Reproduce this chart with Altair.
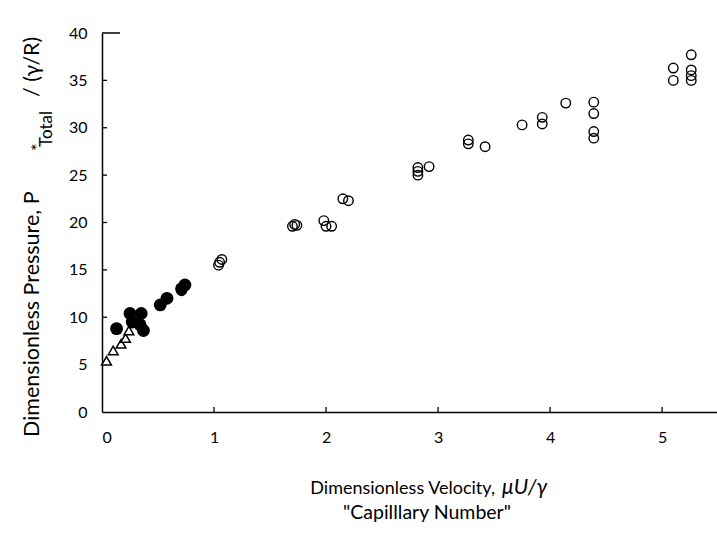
import altair as alt
import pandas as pd

# Open circles: capillary-number sweep
open_x = [0.71, 1.04, 1.05, 1.07, 1.70, 1.72, 1.74, 1.98, 2.00, 2.05, 2.15, 2.20,
          2.82, 2.82, 2.82, 2.92, 3.27, 3.27, 3.42, 3.75, 3.93, 3.93, 4.14,
          4.39, 4.39, 4.39, 4.39, 5.10, 5.10, 5.26, 5.26, 5.26, 5.26]
open_y = [12.8, 15.5, 15.8, 16.1, 19.6, 19.8, 19.7, 20.2, 19.6, 19.6, 22.5, 22.3,
          25.0, 25.4, 25.8, 25.9, 28.7, 28.3, 28.0, 30.3, 31.1, 30.4, 32.6,
          32.7, 31.5, 29.6, 28.9, 36.3, 35.0, 37.7, 36.1, 35.5, 35.0]

# Filled circles: low-velocity runs
filled_x = [0.13, 0.25, 0.35, 0.27, 0.34, 0.37, 0.52, 0.58, 0.71, 0.74]
filled_y = [8.8, 10.4, 10.4, 9.5, 9.2, 8.6, 11.3, 12.0, 13.0, 13.4]

# Open triangles
tri_x = [0.04, 0.10, 0.17, 0.21, 0.24, 0.32]
tri_y = [5.4, 6.5, 7.2, 7.8, 8.6, 9.4]

x_ticks = [0, 1, 2, 3, 4, 5]
y_ticks = [0, 5, 10, 15, 20, 25, 30, 35, 40]

FONT = "Lato"
W, H = 615, 379

xs = alt.Scale(domain=[0, 5.49], nice=False, zero=False)
ys = alt.Scale(domain=[0, 40], nice=False, zero=False)
x_axis = alt.Axis(values=x_ticks, title=None, format="d")
y_axis = alt.Axis(values=y_ticks, title=None, format="d")

df_open = pd.DataFrame({"x": open_x, "y": open_y})
df_filled = pd.DataFrame({"x": filled_x, "y": filled_y})
df_tri = pd.DataFrame({"x": tri_x, "y": tri_y})

opened = alt.Chart(df_open).mark_point(
    shape="circle", filled=False, color="black", size=90, strokeWidth=1.4, opacity=1
).encode(x=alt.X("x:Q", scale=xs, axis=x_axis), y=alt.Y("y:Q", scale=ys, axis=y_axis))

filled = alt.Chart(df_filled).mark_point(
    shape="circle", filled=True, color="black", size=165, opacity=1
).encode(x=alt.X("x:Q", scale=xs, axis=x_axis), y=alt.Y("y:Q", scale=ys, axis=y_axis))

tris = alt.Chart(df_tri).mark_point(
    shape="triangle-up", filled=True, fill="white", stroke="black", size=95,
    strokeWidth=1.5, opacity=1
).encode(x=alt.X("x:Q", scale=xs, axis=x_axis), y=alt.Y("y:Q", scale=ys, axis=y_axis))

# inward-pointing tick marks
xt = alt.Chart(pd.DataFrame({"x": x_ticks[1:]})).mark_rule(
    color="black", strokeWidth=1.3
).encode(x=alt.X("x:Q", scale=xs, axis=x_axis), y=alt.value(H), y2=alt.value(H - 5))

yt = alt.Chart(pd.DataFrame({"y": y_ticks[1:-1]})).mark_rule(
    color="black", strokeWidth=1.3
).encode(y=alt.Y("y:Q", scale=ys, axis=y_axis), x=alt.value(0), x2=alt.value(5))

ytop = alt.Chart(pd.DataFrame({"y": y_ticks[-1:]})).mark_rule(
    color="black", strokeWidth=1.5
).encode(y=alt.Y("y:Q", scale=ys, axis=y_axis), x=alt.value(0), x2=alt.value(18))


def label(text, x, y, size, angle=0, align="left", style="normal"):
    return alt.Chart(pd.DataFrame({"t": [text]})).mark_text(
        font=FONT, fontSize=size, angle=angle, align=align, baseline="alphabetic",
        color="black", fontStyle=style
    ).encode(text="t:N", x=alt.value(x), y=alt.value(y))


# x-axis title (two lines, symbol part in italics)
xt1 = label("Dimensionless Velocity,", 393, 461, 18, align="right")
xt2 = label("\u03bcU/\u03b3", 400, 461, 21, style="italic")
xt3 = label("\"Capilllary Number\"", 325, 486, 19.5, align="center")

# y-axis title with superscript and subscript
yl1 = label("Dimensionless Pressure, P", -63, 404, 21.5, angle=270)
yl2 = label("*", -58, 118, 18, angle=270)
yl3 = label("Total", -50, 114, 17, angle=270)
yl4 = label("/  (\u03b3/R)", -63, 64, 21.5, angle=270)

chart = alt.layer(
    xt, yt, ytop, tris, filled, opened, xt1, xt2, xt3, yl1, yl2, yl3, yl4
).properties(
    width=W, height=H,
    padding={"left": 102, "top": 33, "right": 0, "bottom": 121},
    autosize="none",
    background="white",
).configure_view(stroke=None).configure_axis(
    labelFont=FONT, labelFontSize=16, labelColor="black", tickSize=0, ticks=False,
    domainColor="black", domainWidth=1.5, grid=False,
).configure_axisX(labelPadding=17).configure_axisY(labelPadding=15)

chart.save("out.html", embed_options={"renderer": "svg", "actions": False})
